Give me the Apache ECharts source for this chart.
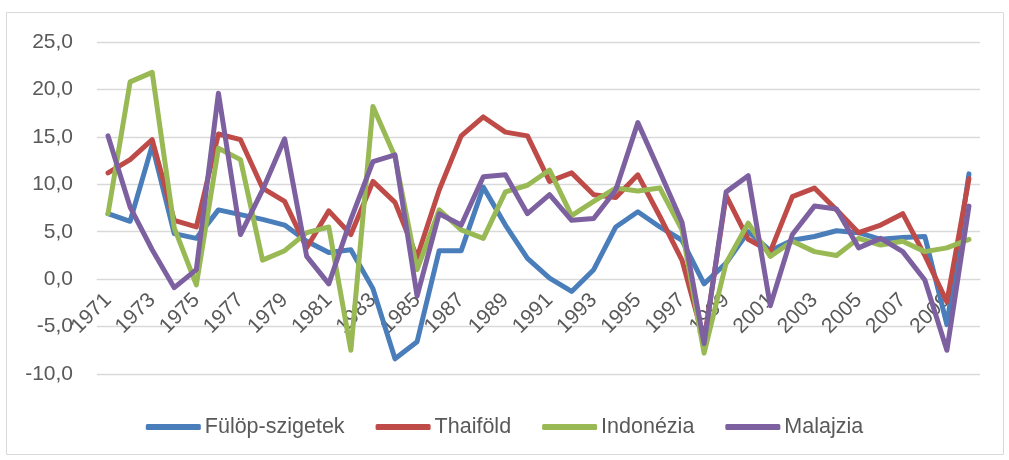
<!DOCTYPE html>
<html>
<head>
<meta charset="utf-8">
<script src="https://cdn.jsdelivr.net/npm/echarts@6/dist/echarts.min.js"></script>
<style>
html,body{margin:0;padding:0;background:#fff;}
#chart{width:1009px;height:460px;}
</style>
</head>
<body>
<div id="chart"></div>
<script>
var years = [];
for (var y = 1971; y <= 2010; y++) years.push(String(y));

var seriesNames = ['Fülöp-szigetek', 'Thaiföld', 'Indonézia', 'Malajzia'];

var fulop = [6.9, 6.1, 14.1, 4.8, 4.3, 7.3, 6.8, 6.3, 5.7, 4.0,
             2.8, 3.1, -1.0, -8.4, -6.6, 3.0, 3.0, 9.7, 5.7, 2.2,
             0.1, -1.3, 1.0, 5.5, 7.1, 5.5, 4.1, -0.5, 1.7, 5.0,
             3.0, 4.1, 4.5, 5.1, 4.9, 4.2, 4.4, 4.5, -4.8, 11.1];

var thai = [11.2, 12.6, 14.7, 6.2, 5.5, 15.3, 14.7, 9.6, 8.2, 3.3,
            7.2, 4.7, 10.3, 8.1, 2.3, 9.4, 15.1, 17.1, 15.5, 15.1,
            10.3, 11.2, 8.9, 8.6, 11.0, 6.6, 2.0, -6.5, 8.8, 4.2,
            2.9, 8.7, 9.6, 7.3, 4.9, 5.7, 6.9, 2.5, -2.4, 10.6];

var indo = [6.9, 20.8, 21.8, 5.4, -0.6, 13.8, 12.6, 2.0, 3.0, 4.9,
            5.5, -7.5, 18.2, 12.9, 1.0, 7.3, 5.2, 4.3, 9.2, 9.9,
            11.5, 6.7, 8.2, 9.6, 9.3, 9.6, 5.2, -7.8, 1.7, 5.9,
            2.4, 4.0, 2.9, 2.5, 4.3, 3.6, 4.0, 2.9, 3.3, 4.2];

var malaj = [15.1, 7.6, 3.1, -0.9, 1.0, 19.6, 4.7, 9.4, 14.8, 2.4,
             -0.5, 6.3, 12.4, 13.1, -1.8, 6.9, 5.7, 10.8, 11.0, 6.9,
             8.9, 6.2, 6.4, 9.4, 16.5, 11.3, 6.0, -6.8, 9.2, 10.9,
             -2.8, 4.7, 7.7, 7.4, 3.3, 4.3, 2.9, -0.1, -7.5, 7.7];

var colors = ['#4A7EBB', '#BE4B48', '#98B954', '#7D60A0'];
var FONT = '"Liberation Sans", Arial, sans-serif';

function mk(name, data, color) {
  return {
    name: name, type: 'line', data: data, symbol: 'none',
    lineStyle: { width: 5, color: color, cap: 'round', join: 'round' },
    itemStyle: { color: color },
    emphasis: { disabled: true }, animation: false
  };
}

var chart = echarts.init(document.getElementById('chart'));
chart.setOption({
  backgroundColor: '#ffffff',
  animation: false,
  graphic: [{
    type: 'rect', silent: true,
    shape: { x: 6.5, y: 12.5, width: 997, height: 442 },
    style: { fill: 'none', stroke: '#d9d9d9', lineWidth: 1 }
  }],
  grid: { left: 97, right: 29, top: 42, bottom: 86, containLabel: false },
  legend: {
    data: seriesNames,
    bottom: 17, left: 'center',
    icon: 'roundRect', itemWidth: 55, itemHeight: 6, itemGap: 31,
    textStyle: { fontFamily: FONT, fontSize: 21.5, color: '#595959', padding: [0, 0, 0, -1] }
  },
  xAxis: {
    type: 'category', data: years, boundaryGap: true,
    position: 'bottom', offset: -95,
    axisLine: { onZero: false, lineStyle: { color: '#d9d9d9', width: 1 } },
    axisTick: { show: false },
    axisLabel: { rotate: 45, interval: 1, margin: 18, fontFamily: FONT, fontSize: 21, color: '#595959' },
    splitLine: { show: false }
  },
  yAxis: {
    type: 'value', min: -10, max: 25, interval: 5,
    axisLine: { show: false }, axisTick: { show: false },
    axisLabel: {
      margin: 24, fontFamily: FONT, fontSize: 21, color: '#595959',
      formatter: function (v) { return v.toFixed(1).replace('.', ','); }
    },
    splitLine: { lineStyle: { color: '#d9d9d9', width: 1.3 } }
  },
  series: [
    mk(seriesNames[0], fulop, colors[0]),
    mk(seriesNames[1], thai, colors[1]),
    mk(seriesNames[2], indo, colors[2]),
    mk(seriesNames[3], malaj, colors[3])
  ]
});
</script>
</body>
</html>
